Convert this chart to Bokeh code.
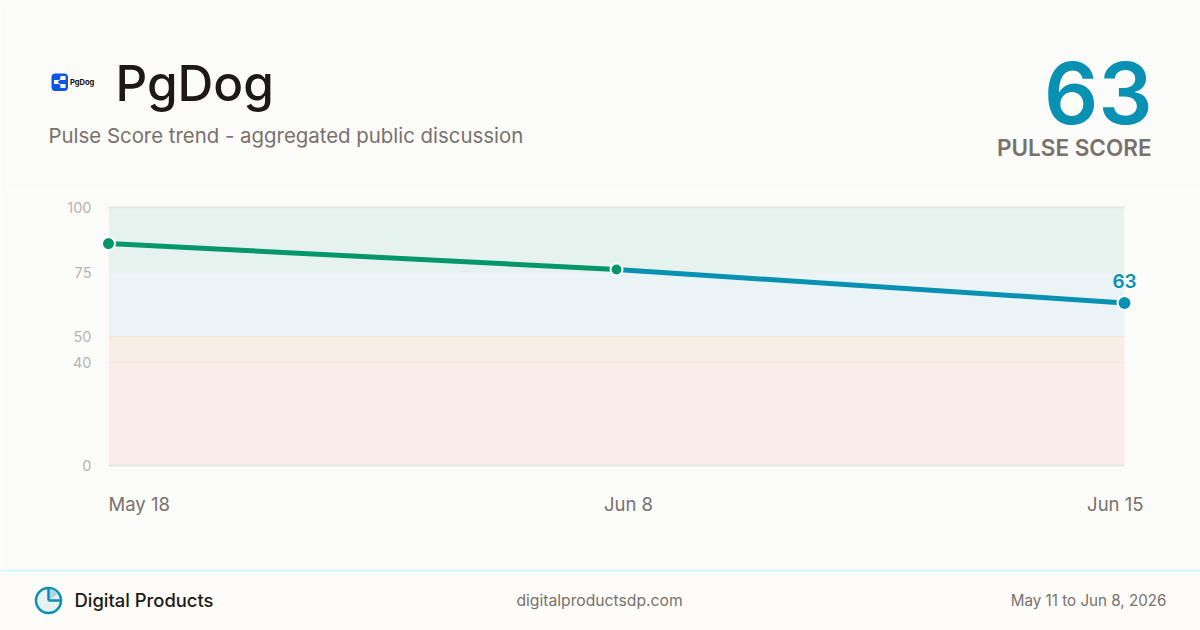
from bokeh.plotting import figure
from bokeh.layouts import column
from bokeh.models import FixedTicker, Range1d
from bokeh.core.properties import value
from bokeh.embed import file_html
from bokeh.resources import INLINE

# ---- data ----
dates = ["May 18", "Jun 8", "Jun 15"]
scores = [86, 76, 63]
y_ticks = [0, 40, 50, 75, 100]
band_low = [0, 40, 50, 75]
band_high = [40, 50, 75, 100]
band_colors = ["#FAECEA", "#F7EFE6", "#EAF3F5", "#E6F2ED"]
band_edges = ["#F7E3E0", "#F5E9DC", "#E3EEF0", "#DDEBE5"]
score_label = "63"
FONT = "Inter"
MED = "Inter Medium"
SEMI = "Inter SemiBold"
BG = "#FBFBF9"
FOOT = "#FDFCF8"
TEAL = "#0891B2"
GREEN = "#059669"
x_idx = list(range(len(dates)))
W = 1200


def canvas(top, bottom, bg):
    """A strip of the page whose data coordinates are page pixels."""
    f = figure(width=W, height=bottom - top, output_backend="svg", toolbar_location=None,
               x_range=Range1d(0, W), y_range=Range1d(bottom, top), frame_align=False,
               min_border=0, min_border_left=0, min_border_right=0, min_border_top=0, min_border_bottom=0)
    f.axis.visible = False
    f.grid.visible = False
    f.outline_line_color = None
    f.background_fill_color = bg
    f.border_fill_color = bg
    return f


def put(f, x, y, s, size, color, align="left", style="normal", font=FONT):
    f.text([x], [y - 0.385 * size], text=[s], text_font=value(font), text_font_size=f"{size}px", text_color=color,
           text_align=align, text_baseline="alphabetic", text_font_style=style)


# ---- header ----
head = canvas(0, 190, BG)
head.quad(left=[51], right=[67.5], top=[73], bottom=[90.5], fill_color="#0D55E5", line_color=None, border_radius=4)
head.segment([56, 56], [81.5, 81.5], [62, 62], [77.5, 85.5], line_color="white", line_width=1)
head.quad(left=[53.5, 60, 60], right=[57.5, 65, 65], top=[79.5, 75.5, 83.5], bottom=[83.5, 79.5, 87.5],
          fill_color="white", line_color=None)
put(head, 69.5, 84.5, "PgDog", 7.5, "#111111", style="bold")
put(head, 115, 102, "PgDog", 49.5, "#1C1917", font=MED)
put(head, 48, 143, "Pulse Score trend - aggregated public discussion", 20.4, "#78716C")
put(head, 1152, 125, score_label, 85, TEAL, align="right", font=SEMI)
put(head, 1151, 156, "PULSE SCORE", 22.5, "#78716C", align="right", font=SEMI)

# ---- chart ----
TOP, BOTTOM = 190, 569
p = figure(width=W, height=BOTTOM - TOP, output_backend="svg", toolbar_location=None,
           x_range=Range1d(0, 2), y_range=Range1d(0, 100), frame_align=False,
           min_border_left=108, min_border_right=W - 1124, min_border_top=207 - TOP, min_border_bottom=BOTTOM - 465)
p.background_fill_color = BG
p.border_fill_color = BG
p.outline_line_color = None
p.grid.visible = False
p.xaxis.visible = False
p.yaxis.ticker = FixedTicker(ticks=y_ticks)
p.yaxis.axis_line_color = None
p.yaxis.major_tick_line_color = None
p.yaxis.minor_tick_line_color = None
p.yaxis.major_label_text_font = FONT
p.yaxis.major_label_text_font_size = "14.5px"
p.yaxis.major_label_text_color = "#B8B4B0"
p.yaxis.major_label_standoff = 11

p.quad(left=0, right=2, bottom=band_low, top=band_high, fill_color=band_colors, line_color=None)
p.segment(x0=[0] * 4, x1=[2] * 4, y0=band_high, y1=band_high, line_color=band_edges, line_width=1)
p.segment(x0=[0, 0], x1=[2, 2], y0=[0, 100], y1=[0, 100], line_color="#E5E5E3", line_width=2, level="overlay")

p.line(x_idx[:2], scores[:2], line_color=GREEN, line_width=5, line_cap="round")
p.line(x_idx[1:], scores[1:], line_color=TEAL, line_width=5, line_cap="round")
p.scatter(x_idx[:1], scores[:1], size=13, fill_color=GREEN, line_color="white", line_width=2, level="overlay")
p.scatter(x_idx[1:2], scores[1:2], size=12, fill_color=GREEN, line_color="white", line_width=2, level="overlay")
p.scatter(x_idx[2:], scores[2:], size=14, fill_color=TEAL, line_color="white", line_width=2, level="overlay")
p.text(x_idx[2:], scores[2:], text=[score_label], text_font=value(SEMI), text_font_size="19px", text_color=TEAL,
       text_align="center", text_baseline="alphabetic", y_offset=-22, level="overlay")

p.text(x_idx, [0] * 3, text=dates, text_font=value(FONT), text_font_size="18.5px", text_color="#78716C",
       text_align=["left", "center", "right"], text_baseline="alphabetic", x_offset=[0, 12, 19], y_offset=38,
       level="overlay")

# ---- footer ----
foot = canvas(569, 630, FOOT)
foot.segment([0], [570], [W], [570], line_color="#BFF5FC", line_width=1.5)
foot.circle([48], [600], radius=12.5, fill_color="#E6F1F4", line_color=TEAL, line_width=2.5)
foot.wedge([48], [600], radius=11.5, start_angle=0.6, end_angle=1.5708, direction="anticlock",
           fill_color="#A9D6E3", line_color=None)
foot.segment([48, 48], [600, 600], [48, 60], [588, 600], line_color=TEAL, line_width=2.5)
put(foot, 74, 606.5, "Digital Products", 18.4, "#1C1917", font=MED)
put(foot, 599, 606, "digitalproductsdp.com", 15.7, "#78716C", align="center")
put(foot, 1166, 606, "May 11 to Jun 8, 2026", 15.2, "#78716C", align="right")

layout = column(head, p, foot, spacing=0)
open("out.html", "w").write(file_html(layout, INLINE))
